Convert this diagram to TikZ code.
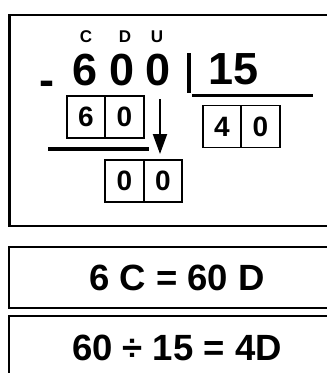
\documentclass[tikz,border=0pt]{standalone}
\usepackage{fontspec}
\setmainfont{Liberation Sans}
\usepackage{tikz}
\usetikzlibrary{positioning,arrows.meta}
\usepackage{xcolor}

\tikzset{
  big/.style={font=\bfseries\fontsize{45}{50}\selectfont,inner sep=0pt},
  place/.style={font=\bfseries\fontsize{17}{20}\selectfont,inner sep=0pt},
  cell/.style={draw,line width=1.8pt,minimum width=38.5pt,minimum height=42pt,inner sep=0pt,
    font=\bfseries\fontsize{28}{32}\selectfont},
  eqbox/.style={draw,line width=2.8pt,minimum width=336pt,inner sep=0pt,
    font=\bfseries\fontsize{36.5}{40}\selectfont}
}

\begin{document}
\begin{tikzpicture}[x=1pt,y=-1pt,>={Triangle[length=20pt,width=14pt]}]
\useasboundingbox (0,0) rectangle (327,373);
\draw[line width=2.8pt] (9.7,15) rectangle (345,226);
% place values
\node[place] (C) at (86,36.7) {C};
\node[place] (D) at (125,36.7) {D};
\node[place] (U) at (157,36.7) {U};
% dividend and divisor
\node[big] (dC) at (85,70.5) {6};
\node[big] (dD) at (122,70.5) {0};
\node[big] (dU) at (158,70.5) {0};
\node[big] (minus) at (46.5,88.5) {-};
\node[big] (div) at (234,69.5) {15};
\draw[line width=3.6pt] (189,53) -- (189,93);
\draw[line width=3.2pt] (192,95.3) -- (313,95.3);
% subtracted part
\node[cell] (s6) at (86,117) {6};
\node[cell] (s0) at (124.5,117) {0};
\draw[line width=3.2pt] (48,149) -- (149,149);
% remainder
\node[cell] (r0a) at (124.5,181) {0};
\node[cell] (r0b) at (163,181) {0};
% quotient
\node[cell] (q4) at (222,126.5) {4};
\node[cell] (q0) at (260.5,126.5) {0};
% bring down
\coordinate (bdtop) at (160,99);
\coordinate (bdend) at (160,154);
\draw[->,line width=2pt] (bdtop) -- (bdend);
% equations
\node[eqbox,minimum height=61pt] (eq1) at (177,277.5) {6 C = 60 D};
\node[eqbox,minimum height=64pt] (eq2) at (177,348) {60 ÷ 15 = 4D};
\end{tikzpicture}
\end{document}
